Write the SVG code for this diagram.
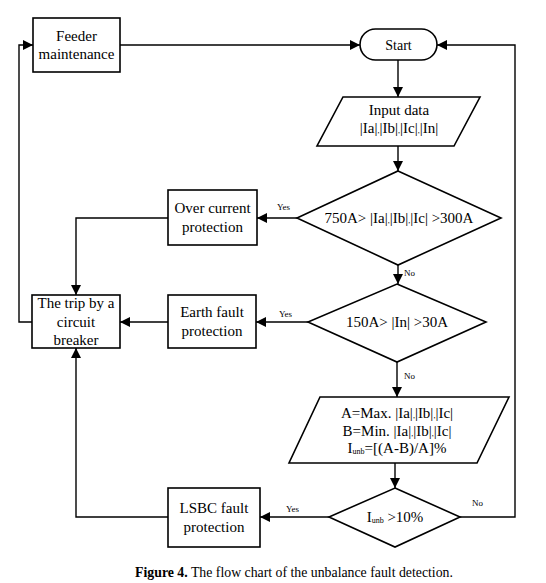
<svg xmlns="http://www.w3.org/2000/svg" width="546" height="583" viewBox="0 0 546 583">
<style>
.s{fill:#fff;stroke:#000;stroke-width:1.6}
.c{fill:none;stroke:#000;stroke-width:1.4}
.t{font-family:"Liberation Serif","Times New Roman",serif;font-size:15px;fill:#000;text-anchor:middle}
.l{font-family:"Liberation Serif","Times New Roman",serif;font-size:9px;fill:#000}
.sm{font-size:8px}
</style>
<defs>
<marker id="a" viewBox="0 0 10 10" refX="10" refY="5" markerWidth="10" markerHeight="10" markerUnits="userSpaceOnUse" orient="auto">
<path d="M0,0 L10,5 L0,10 z" fill="#000"/>
</marker>
</defs>
<rect width="546" height="583" fill="#fff"/>
<g id="connectors" class="c">
<path d="M120,45 H360" marker-end="url(#a)"/>
<path d="M398,60 V97" marker-end="url(#a)"/>
<path d="M398,146 V171" marker-end="url(#a)"/>
<path d="M297,218 H257" marker-end="url(#a)"/>
<path d="M168,218 H76 V295" marker-end="url(#a)"/>
<path d="M398,265 V284" marker-end="url(#a)"/>
<path d="M308,322 H256" marker-end="url(#a)"/>
<path d="M168,322 H120" marker-end="url(#a)"/>
<path d="M32,322 H19 V45 H33" marker-end="url(#a)"/>
<path d="M397,362 V397" marker-end="url(#a)"/>
<path d="M395,463 V488" marker-end="url(#a)"/>
<path d="M329,517 H260" marker-end="url(#a)"/>
<path d="M168,517 H76 V348" marker-end="url(#a)"/>
<path d="M460,517 H515 V45 H437" marker-end="url(#a)"/>
</g>
<g id="labels">
<text class="l" x="277" y="210">Yes</text>
<text class="l" x="404" y="276">No</text>
<text class="l" x="279" y="317">Yes</text>
<text class="l" x="404" y="379">No</text>
<text class="l" x="286" y="512">Yes</text>
<text class="l" x="472" y="506">No</text>
</g>
<g id="feeder">
<rect class="s" x="33" y="18" width="87" height="54"/>
<text class="t" x="76.5" y="41">Feeder</text>
<text class="t" x="76.5" y="59">maintenance</text>
</g>
<g id="start">
<rect class="s" x="360" y="29" width="77" height="31" rx="15.5"/>
<text class="t" x="398.5" y="50" style="font-size:14px">Start</text>
</g>
<g id="input">
<polygon class="s" points="343,97 480,97 454,146 317,146"/>
<text class="t" x="399" y="115">Input data</text>
<text class="t" x="399" y="133">|Ia|<tspan class="sm">,</tspan>|Ib|<tspan class="sm">,</tspan>|Ic|<tspan class="sm">,</tspan>|In|</text>
</g>
<g id="decision1">
<polygon class="s" points="398,171 501,218 398,265 297,218"/>
<text class="t" x="399" y="223">750A&gt; |Ia|<tspan class="sm">,</tspan>|Ib|<tspan class="sm">,</tspan>|Ic| &gt;300A</text>
</g>
<g id="overcurrent">
<rect class="s" x="168" y="190" width="89" height="55"/>
<text class="t" x="212.5" y="213">Over current</text>
<text class="t" x="212.5" y="232">protection</text>
</g>
<g id="decision2">
<polygon class="s" points="397,284 486,322 397,362 308,322"/>
<text class="t" x="397" y="327">150A&gt; |In| &gt;30A</text>
</g>
<g id="earthfault">
<rect class="s" x="168" y="295" width="88" height="53"/>
<text class="t" x="212" y="317">Earth fault</text>
<text class="t" x="212" y="336">protection</text>
</g>
<g id="trip">
<rect class="s" x="32" y="295" width="88" height="53"/>
<text class="t" x="76" y="308">The trip by a</text>
<text class="t" x="76" y="327">circuit</text>
<text class="t" x="76" y="345">breaker</text>
</g>
<g id="compute">
<polygon class="s" points="320,397 509,397 477,463 289,463"/>
<text class="t" x="397" y="418">A=Max. |Ia|<tspan class="sm">,</tspan>|Ib|<tspan class="sm">,</tspan>|Ic|</text>
<text class="t" x="397" y="436">B=Min. |Ia|<tspan class="sm">,</tspan>|Ib|<tspan class="sm">,</tspan>|Ic|</text>
<text class="t" x="397" y="453">I<tspan class="sm" dy="1">unb</tspan><tspan dy="-1">=[(A-B)/A]%</tspan></text>
</g>
<g id="decision3">
<polygon class="s" points="395,488 460,517 395,547 329,517"/>
<text class="t" x="395" y="522">I<tspan class="sm" dy="1">unb</tspan><tspan dy="-1"> &gt;10%</tspan></text>
</g>
<g id="lsbc">
<rect class="s" x="168" y="488" width="92" height="59"/>
<text class="t" x="214" y="513">LSBC fault</text>
<text class="t" x="214" y="532">protection</text>
</g>
<text x="294" y="577" style="font-family:'Liberation Serif','Times New Roman',serif;font-size:13.8px;text-anchor:middle"><tspan font-weight="bold">Figure 4.</tspan> The flow chart of the unbalance fault detection.</text>
</svg>
